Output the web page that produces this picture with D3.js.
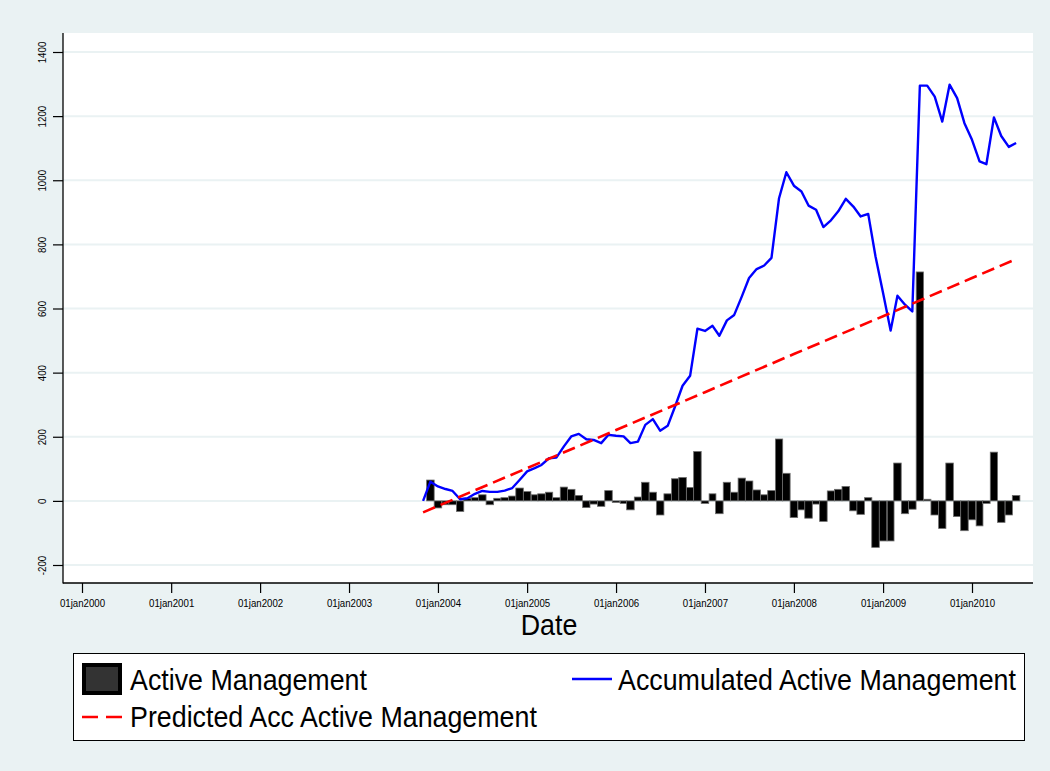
<!DOCTYPE html>
<html>
<head>
<meta charset="utf-8">
<script src="https://cdn.jsdelivr.net/npm/d3@7"></script>
<style>
body { margin: 0; background: #eaf2f3; }
svg { display: block; font-family: "Liberation Sans", Arial, sans-serif; }
</style>
</head>
<body>
<svg id="chart" width="1050" height="771"></svg>
<script>
// monthly observations, Nov 2003 .. Jul 2010
var months = [
  "2003-11", "2003-12",
  "2004-01", "2004-02", "2004-03", "2004-04", "2004-05", "2004-06", "2004-07", "2004-08", "2004-09", "2004-10", "2004-11", "2004-12",
  "2005-01", "2005-02", "2005-03", "2005-04", "2005-05", "2005-06", "2005-07", "2005-08", "2005-09", "2005-10", "2005-11", "2005-12",
  "2006-01", "2006-02", "2006-03", "2006-04", "2006-05", "2006-06", "2006-07", "2006-08", "2006-09", "2006-10", "2006-11", "2006-12",
  "2007-01", "2007-02", "2007-03", "2007-04", "2007-05", "2007-06", "2007-07", "2007-08", "2007-09", "2007-10", "2007-11", "2007-12",
  "2008-01", "2008-02", "2008-03", "2008-04", "2008-05", "2008-06", "2008-07", "2008-08", "2008-09", "2008-10", "2008-11", "2008-12",
  "2009-01", "2009-02", "2009-03", "2009-04", "2009-05", "2009-06", "2009-07", "2009-08", "2009-09", "2009-10", "2009-11", "2009-12",
  "2010-01", "2010-02", "2010-03", "2010-04", "2010-05", "2010-06", "2010-07"
];

// Active Management (bars), Dec 2003 .. Jul 2010
var activeMonths = months.slice(1);
var active = [
  65,
  -22, -12, -12, -33, 8, 10, 19, -12, 8, 10, 15, 40,
  29, 19, 22, 27, 10, 43, 36, 17, -21, -10, -17, 32,
  -5, -8, -28, 12, 58, 27, -44, 22, 69, 73, 42, 154,
  -8, 22, -40, 58, 27, 71, 62, 34, 19, 32, 193, 86,
  -52, -28, -54, -10, -64, 31, 36, 45, -31, -42, 10, -145,
  -125, -125, 118, -40, -26, 714, 5, -44, -86, 118, -49, -93,
  -59, -78, -8, 152, -67, -44, 17
];

// Accumulated Active Management (line), Nov 2003 .. Jul 2010
var accumulated = [
  0, 60,
  45, 37, 31, 5, 8, 22, 31, 28, 28, 32, 40, 65,
  92, 102, 112, 133, 135, 170, 201, 209, 192, 190, 180, 206,
  203, 201, 180, 185, 237, 255, 219, 234, 296, 359, 390, 537,
  530, 546, 515, 563, 580, 637, 695, 723, 734, 758, 944, 1025,
  983, 965, 921, 908, 854, 875, 903, 942, 918, 887, 895, 762,
  648, 531, 640, 612, 591, 1295, 1295, 1261, 1183, 1298, 1256, 1178,
  1126, 1059, 1050, 1196, 1138, 1104, 1116
];

// Predicted Acc Active Management (dashed fit)
var predictedMonths = ["2003-11", "2004-01", "2005-01", "2006-01", "2007-01", "2008-01", "2009-01", "2010-01", "2010-07"];
var predicted = [-36, -16, 102, 221, 339, 458, 576, 695, 754];

var xTickDates = ["2000-01", "2001-01", "2002-01", "2003-01", "2004-01", "2005-01", "2006-01", "2007-01", "2008-01", "2009-01", "2010-01"];
var xTickLabels = ["01jan2000", "01jan2001", "01jan2002", "01jan2003", "01jan2004", "01jan2005", "01jan2006", "01jan2007", "01jan2008", "01jan2009", "01jan2010"];
var yTicks = [-200, 0, 200, 400, 600, 800, 1000, 1200, 1400];

var parseMonth = d3.timeParse("%Y-%m");

var plotLeft = 63, plotRight = 1033, plotTop = 33, plotBottom = 583;

var svg = d3.select("#chart");

var x = d3.scaleTime()
  .domain([parseMonth("2000-01"), parseMonth("2010-01")])
  .range([82, 972]);
var y = d3.scaleLinear()
  .domain([-200, 1400])
  .range([565, 52]);

// graph region + plot region
svg.append("rect").attr("width", 1050).attr("height", 771).attr("fill", "#eaf2f3");
svg.append("rect")
  .attr("x", plotLeft).attr("y", plotTop)
  .attr("width", plotRight - plotLeft).attr("height", plotBottom - plotTop)
  .attr("fill", "#ffffff");

// gridlines
svg.append("g").selectAll("line")
  .data(yTicks)
  .enter()
  .append("line")
  .attr("x1", plotLeft).attr("x2", plotRight)
  .attr("y1", function(d) { return y(d); })
  .attr("y2", function(d) { return y(d); })
  .attr("stroke", "#eaf2f3")
  .attr("stroke-width", 2);

// bars
function monthWidth(m) {
  return x(d3.timeMonth.offset(m, 1)) - x(m);
}
svg.append("g").selectAll("rect")
  .data(active)
  .enter()
  .append("rect")
  .attr("x", function(d, i) {
    var m = parseMonth(activeMonths[i]);
    return x(m) - monthWidth(m) / 2;
  })
  .attr("width", function(d, i) { return monthWidth(parseMonth(activeMonths[i])); })
  .attr("y", function(d) { return y(Math.max(0, d)); })
  .attr("height", function(d) { return Math.abs(y(d) - y(0)); })
  .attr("fill", "#000000")
  .attr("stroke", "#6e6e6e")
  .attr("stroke-width", 0.8);

// accumulated line
var accLine = d3.line()
  .x(function(d, i) { return x(parseMonth(months[i])); })
  .y(function(d) { return y(d); });
svg.append("path")
  .datum(accumulated)
  .attr("d", accLine)
  .attr("fill", "none")
  .attr("stroke", "#0000ff")
  .attr("stroke-width", 2.4)
  .attr("stroke-linejoin", "round");

// predicted line
var predLine = d3.line()
  .x(function(d, i) { return x(parseMonth(predictedMonths[i])); })
  .y(function(d) { return y(d); });
svg.append("path")
  .datum(predicted)
  .attr("d", predLine)
  .attr("fill", "none")
  .attr("stroke", "#ff0000")
  .attr("stroke-width", 2.6)
  .attr("stroke-dasharray", "13,6");

// axes
var xAxis = d3.axisBottom(x)
  .tickValues(xTickDates.map(parseMonth))
  .tickSize(10)
  .tickSizeOuter(0)
  .tickFormat(function(d, i) { return xTickLabels[i]; });
var gx = svg.append("g")
  .attr("transform", "translate(0," + plotBottom + ")")
  .call(xAxis);
gx.select(".domain").remove();
gx.selectAll(".tick line").attr("stroke", "#000").attr("stroke-width", 1.2);
gx.selectAll(".tick text")
  .attr("y", 24).attr("dy", null)
  .attr("transform", "scale(0.88,1)")
  .attr("fill", "#000")
  .style("font-size", "11px")
  .style("font-family", "'Liberation Sans', Arial, sans-serif");

var yAxis = d3.axisLeft(y)
  .tickValues(yTicks)
  .tickSize(10)
  .tickSizeOuter(0)
  .tickFormat(function(d) { return String(d); });
var gy = svg.append("g")
  .attr("transform", "translate(" + plotLeft + ",0)")
  .call(yAxis);
gy.select(".domain").remove();
gy.selectAll(".tick line").attr("stroke", "#000").attr("stroke-width", 1.2);
gy.selectAll(".tick text")
  .attr("transform", "rotate(-90) scale(0.88,1)")
  .attr("x", 0).attr("y", -17).attr("dy", null)
  .attr("text-anchor", "middle")
  .attr("fill", "#000")
  .style("font-size", "11px")
  .style("font-family", "'Liberation Sans', Arial, sans-serif");

svg.append("line")
  .attr("x1", plotLeft).attr("x2", plotLeft)
  .attr("y1", plotTop).attr("y2", plotBottom + 0.5)
  .attr("stroke", "#000").attr("stroke-width", 1.3);
svg.append("line")
  .attr("x1", plotLeft).attr("x2", plotRight)
  .attr("y1", plotBottom).attr("y2", plotBottom)
  .attr("stroke", "#000").attr("stroke-width", 1.3);

// tall, narrow text like the original
function bigText(parent, tx, ty, str, anchor) {
  return parent.append("text")
    .attr("transform", "translate(" + tx + "," + ty + ") scale(0.925,1)")
    .attr("text-anchor", anchor || "start")
    .style("font-size", "29px")
    .text(str);
}

bigText(svg, 549, 635, "Date", "middle");

// legend
var lg = svg.append("g");
lg.append("rect")
  .attr("x", 73.5).attr("y", 653.5)
  .attr("width", 951).attr("height", 87)
  .attr("fill", "#fff").attr("stroke", "#000").attr("stroke-width", 1);
lg.append("rect")
  .attr("x", 84).attr("y", 665).attr("width", 36).attr("height", 28)
  .attr("fill", "#333").attr("stroke", "#000").attr("stroke-width", 4);
bigText(lg, 130, 690, "Active Management");
lg.append("line")
  .attr("x1", 572).attr("x2", 612).attr("y1", 679).attr("y2", 679)
  .attr("stroke", "#0000ff").attr("stroke-width", 2.4);
bigText(lg, 618, 690, "Accumulated Active Management");
lg.append("line")
  .attr("x1", 82).attr("x2", 122).attr("y1", 717).attr("y2", 717)
  .attr("stroke", "#ff0000").attr("stroke-width", 2.6)
  .attr("stroke-dasharray", "16,8");
bigText(lg, 130, 727, "Predicted Acc Active Management");
</script>
</body>
</html>
